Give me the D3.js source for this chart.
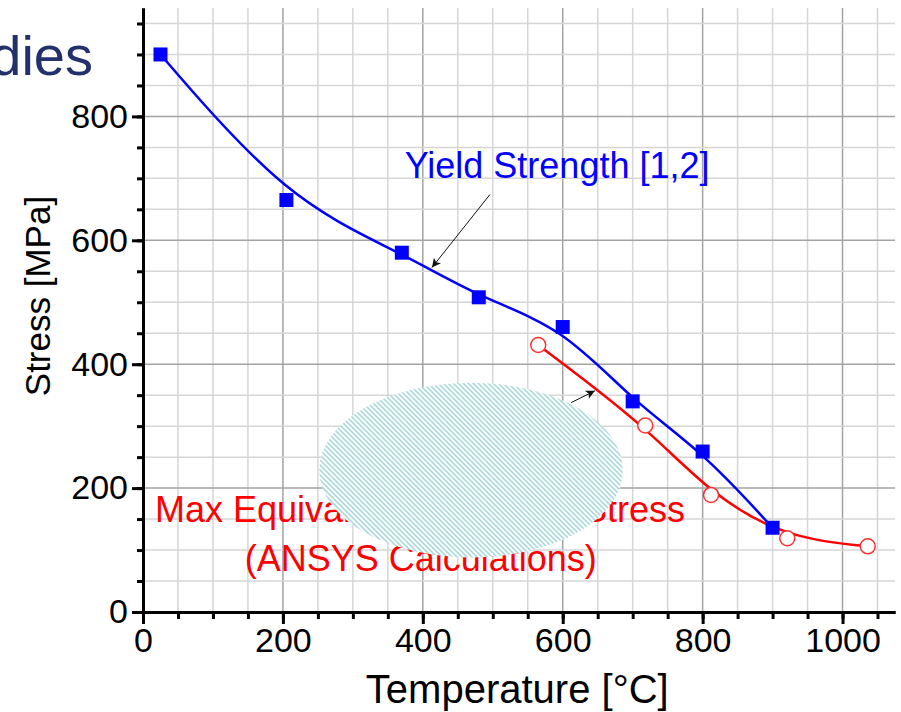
<!DOCTYPE html>
<html>
<head>
<meta charset="utf-8">
<script src="https://cdn.jsdelivr.net/npm/d3@7"></script>
<style>
  body { margin: 0; background: #fff; }
  text { font-family: "Liberation Sans", Arial, sans-serif; }
</style>
</head>
<body>
<div id="chart"></div>
<script>
// yield strength data (blue squares)
var yieldTemp = [25, 205, 370, 480, 600, 700, 800, 900];
var yieldStress = [900, 665, 580, 508, 460, 340, 259, 136];

// max equivalent stress from ANSYS (red open circles)
var ansysTemp = [565, 718, 812, 921, 1036];
var ansysStress = [431, 301, 189, 119, 106];

var xTicks = [0, 200, 400, 600, 800, 1000];
var yTicks = [0, 200, 400, 600, 800];

(function () {
    var margin = { top: 8, right: 6, bottom: 100, left: 143 },
        width = 901 - margin.left - margin.right,
        height = 712 - margin.top - margin.bottom;

    var root = d3.select("#chart")
        .append("svg")
        .attr("width", 901)
        .attr("height", 712);

    // leftover slide title behind the chart
    root.append("text")
        .attr("x", 93)
        .attr("y", 75)
        .attr("text-anchor", "end")
        .style("font-size", "56px")
        .attr("fill", "#22306c")
        .text("dies");

    var svg = root.append("g")
        .attr("transform", "translate(" + margin.left + "," + margin.top + ")");

    var x = d3.scaleLinear().domain([0, 1075]).range([0, width]);
    var y = d3.scaleLinear().domain([0, 975]).range([height, 0]);

    var minorX = d3.range(50, 1075, 50);
    var minorY = d3.range(50, 975, 50);

    // grid
    svg.append("g").selectAll("line")
        .data(minorX)
        .enter().append("line")
        .attr("x1", function (d) { return x(d); })
        .attr("x2", function (d) { return x(d); })
        .attr("y1", 0).attr("y2", height)
        .attr("stroke", function (d) { return d % 200 == 0 ? "#a3a3a3" : "#d6d6d6"; })
        .attr("stroke-width", 1.5);
    svg.append("g").selectAll("line")
        .data(minorY)
        .enter().append("line")
        .attr("y1", function (d) { return y(d); })
        .attr("y2", function (d) { return y(d); })
        .attr("x1", 0).attr("x2", width)
        .attr("stroke", function (d) { return d % 200 == 0 ? "#a3a3a3" : "#d6d6d6"; })
        .attr("stroke-width", 1.5);

    // hatch pattern for the blob
    var defs = root.append("defs");
    var pat = defs.append("pattern")
        .attr("id", "hatch")
        .attr("patternUnits", "userSpaceOnUse")
        .attr("width", 5).attr("height", 5);
    pat.append("rect").attr("width", 5).attr("height", 5).attr("fill", "#fff");
    pat.append("path")
        .attr("d", "M0,0L5,5M-2.5,2.5L2.5,7.5M2.5,-2.5L7.5,2.5")
        .attr("stroke", "#acdadd")
        .attr("stroke-width", 1.6);

    defs.append("marker")
        .attr("id", "arrow")
        .attr("viewBox", "0 0 10 10")
        .attr("refX", 10).attr("refY", 5)
        .attr("markerWidth", 14).attr("markerHeight", 9)
        .attr("markerUnits", "userSpaceOnUse")
        .attr("orient", "auto")
        .append("path")
        .attr("d", "M0,0L10,5L0,10L2.5,5Z")
        .attr("fill", "#111");

    // red annotation text (partly hidden by the blob)
    var redText = svg.append("text")
        .attr("fill", "#ff0000")
        .style("font-size", "36px");
    redText.append("tspan")
        .attr("x", x(17)).attr("y", y(145))
        .text("Max Equivalent von Mises Stress");
    redText.append("tspan")
        .attr("x", x(397)).attr("y", y(66))
        .attr("text-anchor", "middle")
        .text("(ANSYS Calculations)");

    // axes
    function styleAxis(g) {
        g.select(".domain").attr("stroke", "#000").attr("stroke-width", 3);
        g.selectAll(".tick line").attr("stroke", "#000").attr("stroke-width", 3);
        g.selectAll(".tick text").style("font-size", "34px").attr("fill", "#000");
    }
    svg.append("g")
        .attr("transform", "translate(0," + height + ")")
        .call(d3.axisBottom(x).tickValues(minorX).tickSize(7).tickFormat("").tickSizeOuter(0))
        .call(styleAxis);
    svg.append("g")
        .attr("transform", "translate(0," + height + ")")
        .call(d3.axisBottom(x).tickValues(xTicks).tickSize(12).tickPadding(4)
            .tickFormat(d3.format("d")).tickSizeOuter(0))
        .call(styleAxis);
    svg.append("g")
        .call(d3.axisLeft(y).tickValues(minorY).tickSize(6).tickFormat("").tickSizeOuter(0))
        .call(styleAxis);
    svg.append("g")
        .call(d3.axisLeft(y).tickValues(yTicks).tickSize(11).tickPadding(4)
            .tickFormat(d3.format("d")).tickSizeOuter(0))
        .call(styleAxis);

    // axis titles
    svg.append("text")
        .attr("x", x(535))
        .attr("y", height + 91)
        .attr("text-anchor", "middle")
        .style("font-size", "40px")
        .text("Temperature [°C]");
    svg.append("text")
        .attr("transform", "translate(-93," + y(510) + ") rotate(-90)")
        .attr("text-anchor", "middle")
        .style("font-size", "35px")
        .text("Stress [MPa]");

    // curves
    var yieldData = yieldTemp.map(function (t, i) { return { t: t, s: yieldStress[i] }; });
    var ansysData = ansysTemp.map(function (t, i) { return { t: t, s: ansysStress[i] }; });
    var line = d3.line()
        .curve(d3.curveBasis)
        .x(function (d) { return x(d.t); })
        .y(function (d) { return y(d.s); });

    svg.append("path")
        .datum(ansysData)
        .attr("fill", "none")
        .attr("stroke", "#ff0000")
        .attr("stroke-width", 2.5)
        .attr("d", line);
    svg.append("path")
        .datum(yieldData)
        .attr("fill", "none")
        .attr("stroke", "#0000ff")
        .attr("stroke-width", 2.5)
        .attr("d", line);

    svg.selectAll("rect.sq")
        .data(yieldData)
        .enter().append("rect")
        .attr("class", "sq")
        .attr("x", function (d) { return x(d.t) - 7; })
        .attr("y", function (d) { return y(d.s) - 7; })
        .attr("width", 14).attr("height", 14)
        .attr("fill", "#0000ff");

    svg.selectAll("circle.pt")
        .data(ansysData)
        .enter().append("circle")
        .attr("class", "pt")
        .attr("cx", function (d) { return x(d.t); })
        .attr("cy", function (d) { return y(d.s); })
        .attr("r", 7.5)
        .attr("fill", "#fff")
        .attr("stroke", "#ff3030")
        .attr("stroke-width", 1.5);

    // blob covering part of the red label
    svg.append("ellipse")
        .attr("cx", x(469))
        .attr("cy", y(229))
        .attr("rx", x(217) - x(0))
        .attr("ry", y(0) - y(141))
        .attr("fill", "url(#hatch)");

    // annotations
    svg.append("text")
        .attr("x", x(374))
        .attr("y", y(700))
        .attr("fill", "#0000ff")
        .style("font-size", "36px")
        .text("Yield Strength [1,2]");

    svg.append("line")
        .attr("x1", x(496)).attr("y1", y(674))
        .attr("x2", x(413)).attr("y2", y(556))
        .attr("stroke", "#111").attr("stroke-width", 1)
        .attr("marker-end", "url(#arrow)");
    svg.append("line")
        .attr("x1", x(612)).attr("y1", y(338))
        .attr("x2", x(646)).attr("y2", y(357))
        .attr("stroke", "#111").attr("stroke-width", 1)
        .attr("marker-end", "url(#arrow)");
})();
</script>
</body>
</html>
